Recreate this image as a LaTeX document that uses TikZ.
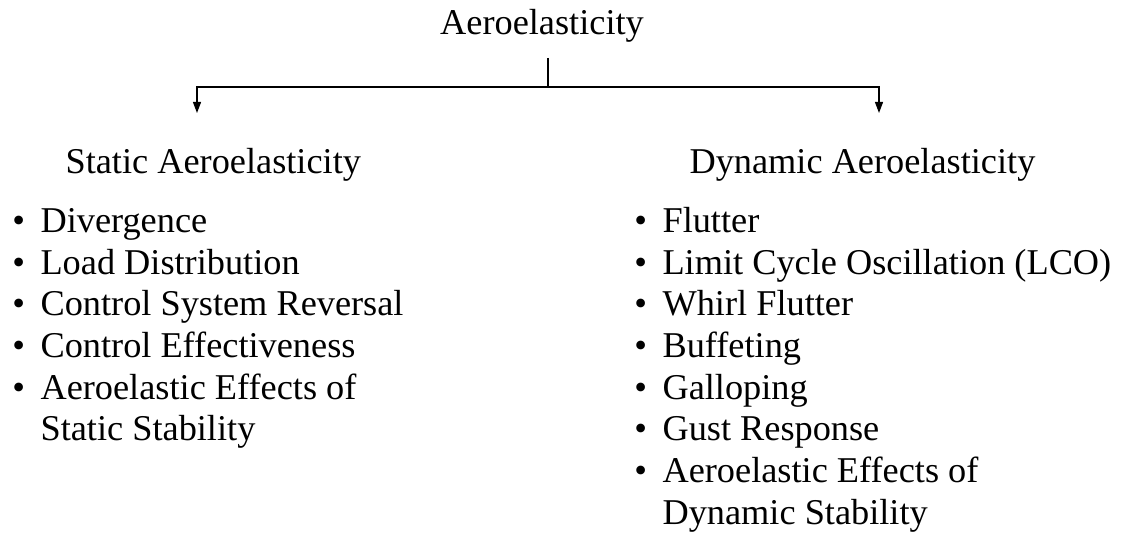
\documentclass[tikz,border=0pt]{standalone}
\usepackage{fontspec}
\setmainfont{Liberation Serif}
\usetikzlibrary{arrows.meta}
\tikzset{
  label text/.style={inner sep=0pt,anchor=base west,font=\fontsize{36.3}{40}\selectfont},
  branch/.style={-{Triangle[length=11pt,width=8pt]}},
}
\newcommand{\itm}[1]{\llap{\textbullet\hspace{0.43em}}#1}

\begin{document}
\begin{tikzpicture}[x=1pt,y=1pt,line width=1.2pt]
  \useasboundingbox (0,0) rectangle (1127,537);
  \node[label text,anchor=base] (aero) at (542,502) {Aeroelasticity};
  \coordinate (root) at (548,479);
  \coordinate (fork) at (548,450);
  \coordinate (endL) at (197,424);
  \coordinate (endR) at (879,424);
  \draw (root) -- (fork);
  \draw[branch] (fork) -| (endL);
  \draw[branch] (fork) -| (endR);
  \node[label text] (static) at (65,363.5) {Static Aeroelasticity};
  \node[label text] (dynamic) at (689,363.5) {Dynamic Aeroelasticity};
  % static branch
  \foreach \txt [count=\i] in {{\itm{Divergence}},{\itm{Load Distribution}},
      {\itm{Control System Reversal}},{\itm{Control Effectiveness}},
      {\itm{Aeroelastic Effects of}},{Static Stability}}
    \node[label text] (s\i) at (40,{304.5-41.7*(\i-1)}) {\txt};
  % dynamic branch
  \foreach \txt [count=\i] in {{\itm{Flutter}},{\itm{Limit Cycle Oscillation (LCO)}},
      {\itm{Whirl Flutter}},{\itm{Buffeting}},{\itm{Galloping}},{\itm{Gust Response}},
      {\itm{Aeroelastic Effects of}},{Dynamic Stability}}
    \node[label text] (d\i) at (662,{304.5-41.7*(\i-1)}) {\txt};
\end{tikzpicture}
\end{document}
